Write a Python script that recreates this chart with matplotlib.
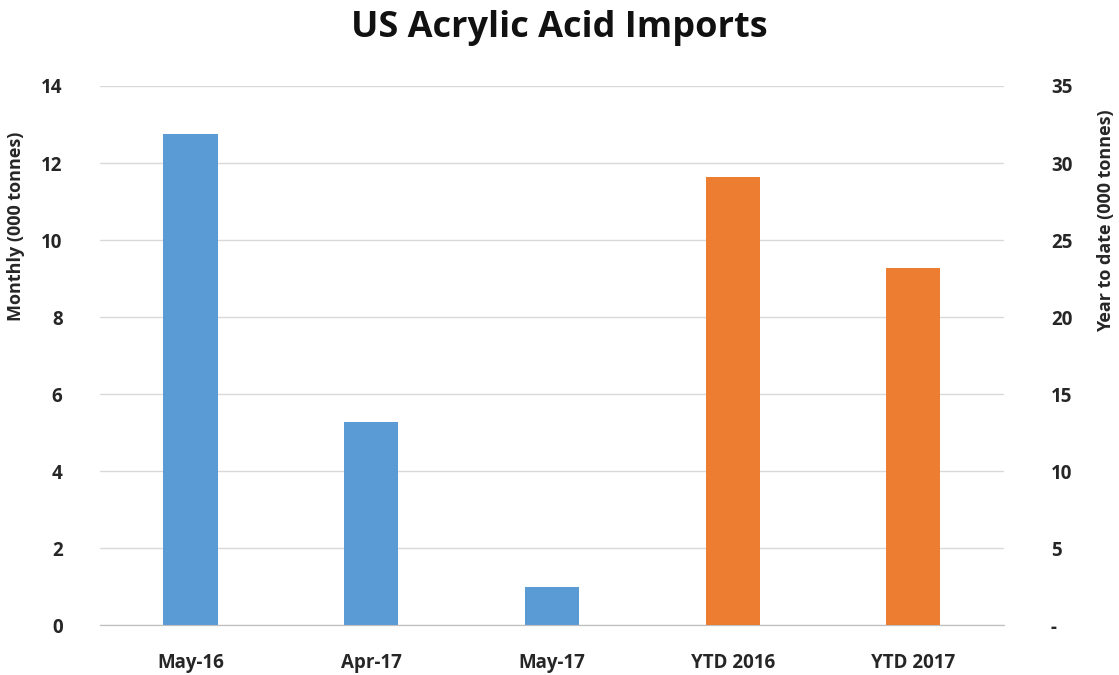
import numpy as np
from matplotlib import pyplot as plt
from matplotlib.ticker import FuncFormatter

plt.rcParams['font.family'] = ['Open Sans', 'DejaVu Sans']

categories = ["May-16", "Apr-17", "May-17", "YTD 2016", "YTD 2017"]
monthly_values = [12.75, 5.28, 1.0]
ytd_values = [29.1, 23.2]

blue = "#5B9BD5"
orange = "#ED7D31"

fig = plt.figure(figsize=(11.19, 6.75), dpi=100)
ax = fig.add_axes([0.0894, 0.074, 0.8076, 0.7986])
ax2 = ax.twinx()

x = np.arange(len(categories))
ax.bar(x[:len(monthly_values)], monthly_values, width=0.3, color=blue, zorder=3)
ax2.bar(x[len(monthly_values):], ytd_values, width=0.3, color=orange, zorder=3)

ax.set_xlim(-0.5, len(categories) - 0.5)
ax.set_ylim(0, 14)
ax.set_yticks(np.arange(0, 15, 2))
ax2.set_ylim(0, 35)
ax2.set_yticks(np.arange(0, 36, 5))
ax2.yaxis.set_major_formatter(FuncFormatter(lambda v, p: "-" if v == 0 else f"{v:.0f}"))

ax.set_xticks(x)
ax.set_xticklabels(categories)

ax.grid(axis='y', color='#d9d9d9', linewidth=1, zorder=0)
ax.set_axisbelow(True)

for a in (ax, ax2):
    for s in ("top", "left", "right"):
        a.spines[s].set_visible(False)
    a.spines["bottom"].set_color("#bfbfbf")
    a.tick_params(length=0, labelsize=13.5, colors="#262626")
    for lab in a.get_xticklabels() + a.get_yticklabels():
        lab.set_fontweight("bold")

ax.tick_params(axis='y', pad=27)
ax2.tick_params(axis='y', pad=34)
ax.tick_params(axis='x', pad=20)

ax.set_ylabel("Monthly (000 tonnes)", fontsize=13, fontweight="bold", color="#262626")
ax.yaxis.set_label_coords(-0.083, 0.74)
ax2.set_ylabel("Year to date (000 tonnes)", fontsize=13, fontweight="bold", color="#262626",
               rotation=90, va="center")
ax2.yaxis.set_label_coords(1.113, 0.75)

fig.text(0.5, 0.958, "US Acrylic Acid Imports", ha="center", va="center",
         fontsize=26, fontweight="bold", color="#111111")

fig.savefig("out.png", dpi=100)
